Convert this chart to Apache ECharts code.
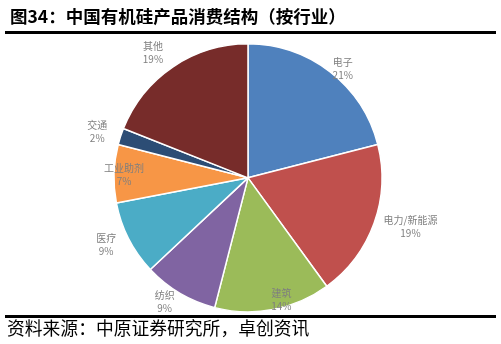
<!DOCTYPE html>
<html>
<head>
<meta charset="utf-8">
<script src="https://cdn.jsdelivr.net/npm/echarts@6/dist/echarts.min.js"></script>
<style>
  html,body{margin:0;padding:0;background:#fff;}
  #main{width:501px;height:344px;}
</style>
</head>
<body>
<div id="main"></div>
<script>
// 行业分类 + 占比(%)
var categories = ['电子', '电力/新能源', '建筑', '纺织', '医疗', '工业助剂', '交通', '其他'];
var shares = [21, 19, 14, 9, 9, 7, 2, 19];
var colors = ['#4F81BD', '#C0504D', '#9BBB59', '#8064A2', '#4BACC6', '#F79646', '#2C4D75', '#772C2A'];
// label distance from the pie edge (excel "best fit" puts some inside)
var labelGap = [4, 10, -10, 10, 14, -30, 14, 17];

var chart = echarts.init(document.getElementById('main'));

var pieData = categories.map(function (name, i) {
    return {
        name: name,
        value: shares[i],
        itemStyle: { color: colors[i] },
        labelLine: { length: labelGap[i], length2: 0 }
    };
});

chart.setOption({
    animation: false,
    title: {
        text: '图34：中国有机硅产品消费结构（按行业）',
        left: 5,
        top: 3,
        textStyle: {
            fontSize: 17.5,
            fontWeight: 'bold',
            color: '#000',
            fontFamily: 'Noto Sans CJK SC'
        }
    },
    graphic: [
        { type: 'rect', shape: { x: 5, y: 31, width: 491, height: 3 }, style: { fill: '#000' } },
        { type: 'rect', shape: { x: 5, y: 315, width: 491, height: 3 }, style: { fill: '#000' } },
        {
            type: 'text', left: 7, top: 319,
            style: { text: '资料来源：中原证券研究所，卓创资讯', fontSize: 17.8, fill: '#000', fontFamily: 'Noto Sans CJK SC' }
        }
    ],
    series: [{
        type: 'pie',
        center: ['49.5%', '51.7%'],
        radius: 134,
        startAngle: 90,
        clockwise: true,
        avoidLabelOverlap: false,
        itemStyle: { borderColor: '#fff', borderWidth: 1.5 },
        label: {
            show: true,
            position: 'outside',
            formatter: '{b}\n{c}%',
            color: '#7F7F7F',
            fontSize: 10,
            lineHeight: 13,
            distanceToLabelLine: 0,
            fontFamily: 'Noto Sans CJK SC'
        },
        labelLine: { show: false },
        labelLayout: function (p) {
            var r = p.labelRect;
            return {
                x: r.x + r.width / 2,
                y: r.y + r.height / 2,
                align: 'center',
                verticalAlign: 'middle'
            };
        },
        emphasis: { disabled: true },
        data: pieData
    }]
});
</script>
</body>
</html>
